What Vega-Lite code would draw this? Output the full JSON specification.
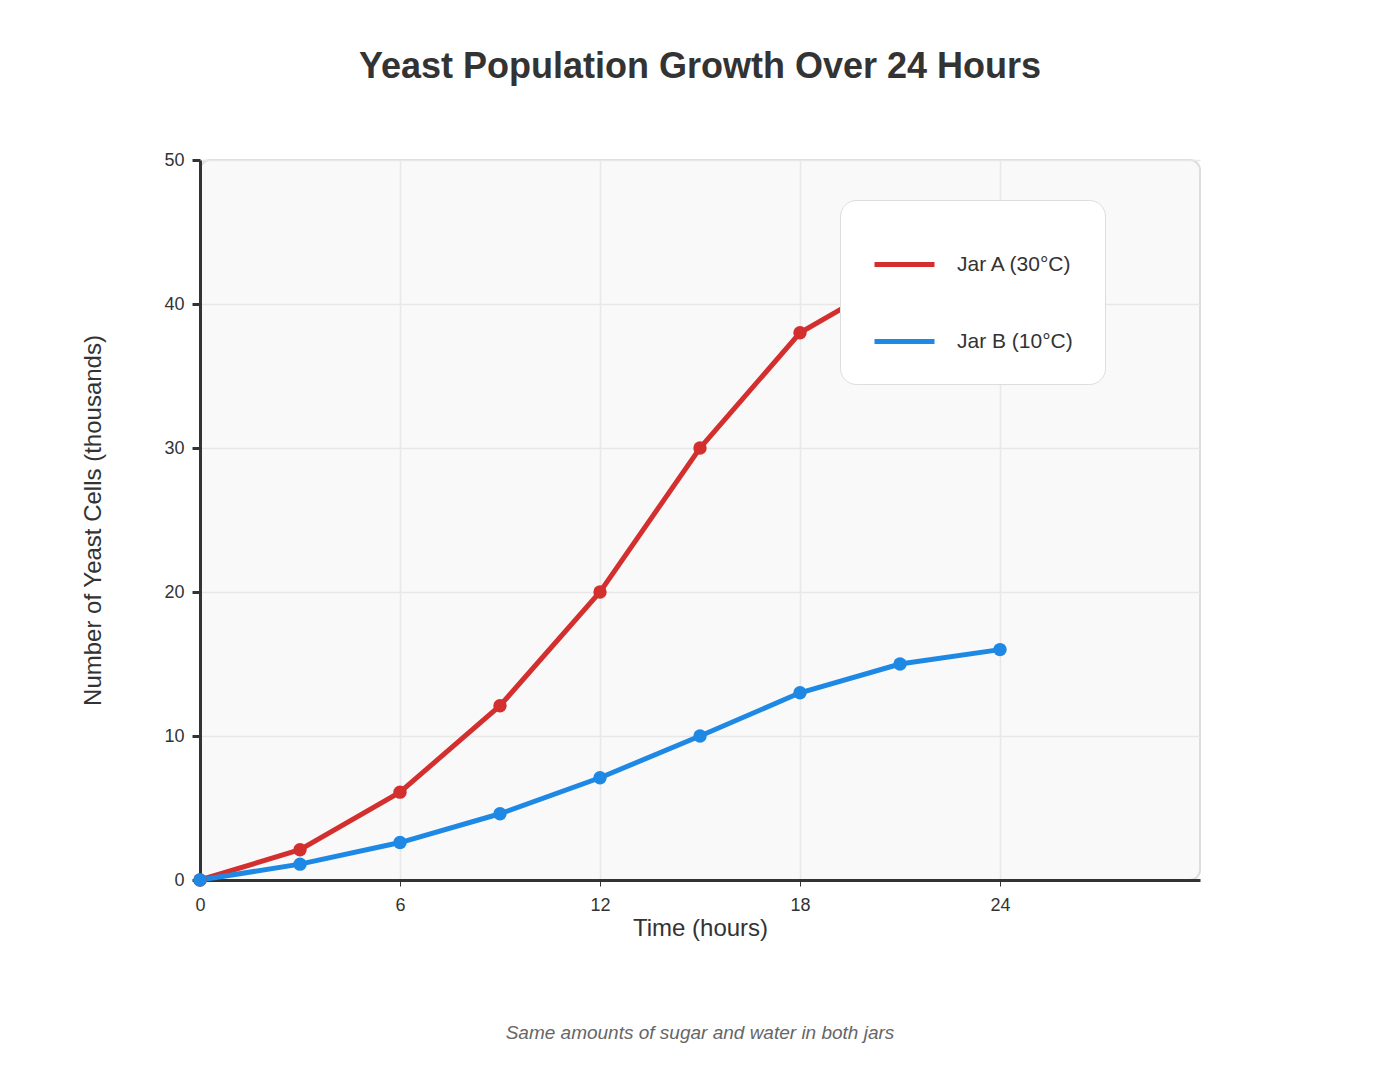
{
"$schema":"https://vega.github.io/schema/vega-lite/v6.json",
"width":1000,"height":720,
"autosize":{"type":"none"},
"padding":{"left":200,"top":160,"right":200,"bottom":200},
"background":"white",
"title":{"text":"Yeast Population Growth Over 24 Hours","fontSize":36,"font":"Liberation Sans","fontWeight":"bold","color":"#333","offset":65,"anchor":"middle"},
"config":{"view":{"fill":"#f9f9f9","stroke":"#dddddd","strokeWidth":2,"cornerRadius":10},"font":"Liberation Sans"},
"data":{"values":[
{"t":0,"v":0,"jar":"Jar A (30°C)"},{"t":3,"v":2.1,"jar":"Jar A (30°C)"},{"t":6,"v":6.1,"jar":"Jar A (30°C)"},{"t":9,"v":12.1,"jar":"Jar A (30°C)"},{"t":12,"v":20,"jar":"Jar A (30°C)"},{"t":15,"v":30,"jar":"Jar A (30°C)"},{"t":18,"v":38,"jar":"Jar A (30°C)"},{"t":21,"v":42,"jar":"Jar A (30°C)"},{"t":24,"v":44,"jar":"Jar A (30°C)"},
{"t":0,"v":0,"jar":"Jar B (10°C)"},{"t":3,"v":1.1,"jar":"Jar B (10°C)"},{"t":6,"v":2.6,"jar":"Jar B (10°C)"},{"t":9,"v":4.6,"jar":"Jar B (10°C)"},{"t":12,"v":7.1,"jar":"Jar B (10°C)"},{"t":15,"v":10,"jar":"Jar B (10°C)"},{"t":18,"v":13,"jar":"Jar B (10°C)"},{"t":21,"v":15,"jar":"Jar B (10°C)"},{"t":24,"v":16,"jar":"Jar B (10°C)"}
]},
"layer":[
{"mark":{"type":"line","strokeWidth":5,"point":{"size":180,"filled":true,"opacity":1}},
"encoding":{
"x":{"field":"t","type":"quantitative","scale":{"domain":[0,30],"nice":false},
 "axis":{"values":[0,6,12,18,24],"title":"Time (hours)","titleFontSize":24,"titleFontWeight":"normal","titleColor":"#333","titlePadding":2,"labelFontSize":18,"labelColor":"#333","labelPadding":10,"labelFlush":false,"domainColor":"#333","domainWidth":3,"tickColor":"#333","tickSize":6,"tickWidth":1,"gridColor":"#e8e8e8","gridWidth":1.5}},
"y":{"field":"v","type":"quantitative","scale":{"domain":[0,50],"nice":false},
 "axis":{"values":[0,10,20,30,40,50],"title":"Number of Yeast Cells (thousands)","titleFontSize":24,"titleFontWeight":"normal","titleColor":"#333","titlePadding":58,"labelFontSize":18,"labelColor":"#333","labelPadding":8,"labelFlush":false,"domainColor":"#333","domainWidth":3,"tickColor":"#333","tickSize":8,"tickWidth":3,"gridColor":"#e8e8e8","gridWidth":1.5}},
"color":{"field":"jar","type":"nominal","scale":{"domain":["Jar A (30°C)","Jar B (10°C)"],"range":["#d32f2f","#1e88e5"]},
 "legend":{"title":null,"orient":"none","legendX":640,"legendY":40,"fillColor":"white","strokeColor":"#dddddd","cornerRadius":16,"padding":32,"labelFontSize":21,"labelColor":"#333","symbolType":"stroke","symbolStrokeWidth":5,"symbolSize":3600,"rowPadding":34,"labelOffset":20,"labelLimit":300}}
}},
{"data":{"values":[{"note":"Same amounts of sugar and water in both jars"}]},
"mark":{"type":"text","fontSize":19,"fontStyle":"italic","color":"#666","align":"center"},
"encoding":{"text":{"field":"note"},"x":{"datum":15},"y":{"datum":-10.6}}}
]
}
